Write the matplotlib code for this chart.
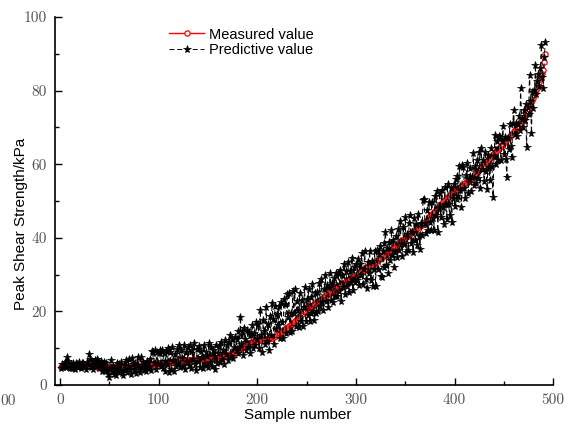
import matplotlib
matplotlib.use("Agg")
import matplotlib.pyplot as plt
import numpy as np
from matplotlib.ticker import MultipleLocator, FuncFormatter

# measured peak shear strength (kPa), ordered by sample number
measured = [
    5.0, 5.1, 5.2, 5.2, 5.3, 5.3, 5.3, 5.4, 5.4, 5.4, 5.4, 5.4, 5.4, 5.3, 5.3, 5.3, 5.3, 5.3, 5.3, 5.3,
    5.3, 5.3, 5.2, 5.2, 5.2, 5.2, 5.2, 5.2, 5.2, 5.1, 5.1, 5.1, 5.1, 5.1, 5.1, 5.1, 5.1, 5.0, 5.0, 5.0,
    5.0, 5.0, 5.0, 5.0, 4.9, 4.9, 4.9, 4.9, 4.9, 4.9, 4.9, 4.9, 4.9, 4.9, 4.9, 4.9, 4.9, 4.9, 4.9, 4.9,
    4.9, 4.9, 4.9, 5.0, 5.0, 5.0, 5.0, 5.0, 5.0, 5.0, 5.1, 5.1, 5.1, 5.1, 5.1, 5.1, 5.2, 5.2, 5.2, 5.2,
    5.3, 5.3, 5.3, 5.4, 5.4, 5.4, 5.5, 5.5, 5.5, 5.6, 5.6, 5.6, 5.7, 5.7, 5.7, 5.8, 5.8, 5.8, 5.9, 5.9,
    5.9, 6.0, 6.0, 6.0, 6.0, 6.1, 6.1, 6.1, 6.1, 6.2, 6.2, 6.2, 6.2, 6.3, 6.3, 6.3, 6.3, 6.4, 6.4, 6.4,
    6.4, 6.5, 6.5, 6.5, 6.5, 6.6, 6.6, 6.6, 6.6, 6.7, 6.7, 6.7, 6.7, 6.8, 6.8, 6.8, 6.8, 6.9, 6.9, 6.9,
    6.9, 7.0, 7.0, 7.0, 7.0, 7.1, 7.1, 7.1, 7.1, 7.2, 7.2, 7.2, 7.2, 7.3, 7.3, 7.3, 7.3, 7.4, 7.4, 7.4,
    7.5, 7.5, 7.6, 7.6, 7.7, 7.8, 7.8, 7.9, 8.0, 8.1, 8.2, 8.3, 8.4, 8.5, 8.6, 8.7, 8.8, 9.0, 9.1, 9.3,
    9.4, 9.6, 9.8, 10.0, 10.2, 10.4, 10.6, 10.8, 11.0, 11.1, 11.2, 11.3, 11.4, 11.5, 11.6, 11.7, 11.8, 11.9, 12.0, 12.0,
    12.1, 12.1, 12.2, 12.2, 12.3, 12.3, 12.4, 12.4, 12.5, 12.5, 12.6, 12.6, 12.7, 12.8, 12.9, 13.0, 13.1, 13.2, 13.4, 13.6,
    13.8, 14.0, 14.2, 14.4, 14.6, 14.8, 15.0, 15.2, 15.4, 15.6, 15.8, 16.0, 16.2, 16.4, 16.6, 16.8, 17.0, 17.3, 17.6, 17.9,
    18.2, 18.5, 18.8, 19.1, 19.4, 19.7, 20.0, 20.4, 20.8, 21.2, 21.4, 21.4, 21.3, 21.3, 21.4, 21.5, 21.7, 21.9, 22.1, 22.3,
    22.5, 22.7, 22.9, 23.1, 23.3, 23.5, 23.7, 23.9, 24.1, 24.3, 24.5, 24.7, 24.9, 25.1, 25.3, 25.5, 25.7, 25.9, 26.1, 26.3,
    26.5, 26.7, 26.9, 27.1, 27.3, 27.5, 27.6, 27.8, 28.0, 28.2, 28.3, 28.5, 28.7, 28.8, 29.0, 29.2, 29.3, 29.5, 29.7, 29.8,
    30.0, 30.2, 30.3, 30.5, 30.7, 30.9, 31.0, 31.2, 31.4, 31.6, 31.8, 32.0, 32.2, 32.4, 32.6, 32.8, 33.0, 33.2, 33.4, 33.6,
    33.8, 34.0, 34.2, 34.4, 34.6, 34.8, 35.0, 35.2, 35.4, 35.6, 35.8, 36.0, 36.2, 36.4, 36.6, 36.8, 37.0, 37.2, 37.4, 37.6,
    37.8, 38.0, 38.3, 38.5, 38.7, 39.0, 39.2, 39.4, 39.7, 39.9, 40.1, 40.4, 40.6, 40.8, 41.1, 41.3, 41.5, 41.8, 42.0, 42.2,
    42.4, 42.6, 42.8, 43.0, 43.2, 43.4, 43.6, 43.8, 44.0, 44.3, 44.6, 44.9, 45.2, 45.5, 45.8, 46.1, 46.4, 46.7, 47.0, 47.3,
    47.6, 47.9, 48.2, 48.5, 48.8, 49.1, 49.4, 49.7, 50.0, 50.3, 50.6, 50.9, 51.2, 51.4, 51.6, 51.8, 52.0, 52.2, 52.4, 52.6,
    52.8, 53.0, 53.2, 53.4, 53.6, 53.8, 54.0, 54.2, 54.4, 54.6, 54.8, 55.0, 55.2, 55.4, 55.6, 55.8, 56.0, 56.3, 56.6, 56.9,
    57.2, 57.5, 57.8, 58.1, 58.4, 58.7, 59.0, 59.3, 59.6, 59.9, 60.2, 60.5, 60.8, 61.1, 61.4, 61.7, 62.0, 62.3, 62.6, 62.9,
    63.2, 63.5, 63.8, 64.1, 64.4, 64.7, 65.0, 65.3, 65.6, 65.9, 66.2, 66.5, 66.8, 67.1, 67.4, 67.7, 68.0, 68.3, 68.6, 68.9,
    69.2, 69.5, 69.8, 70.1, 70.4, 70.8, 71.2, 71.6, 72.0, 72.5, 73.0, 73.5, 74.0, 74.5, 75.0, 75.6, 76.2, 76.8, 77.4, 78.0,
    78.7, 79.4, 80.1, 80.8, 81.6, 82.4, 83.2, 84.0, 84.8, 85.6, 87.8, 90.0,
]

# model prediction for the same samples
predicted = [
    4.6, 5.8, 4.9, 5.5, 6.2, 4.8, 7.5, 6.6, 5.0, 4.7, 5.6, 4.5, 5.9, 5.2, 4.4, 6.0, 5.7, 4.8, 6.3, 5.1,
    4.6, 5.9, 6.1, 4.9, 5.4, 4.3, 6.2, 5.6, 8.5, 7.1, 4.8, 5.3, 6.5, 4.4, 5.8, 6.9, 5.1, 7.0, 6.4, 4.6,
    5.5, 6.6, 3.9, 4.8, 6.2, 3.7, 5.9, 4.2, 3.1, 2.3, 4.6, 6.8, 3.5, 5.2, 2.9, 4.4, 2.7, 6.0, 3.8, 5.6,
    4.1, 6.3, 3.2, 2.7, 5.5, 4.0, 6.9, 3.6, 5.1, 7.1, 4.4, 3.0, 7.3, 5.8, 4.2, 6.0, 3.4, 5.4, 7.6, 4.7,
    3.6, 7.7, 5.0, 6.3, 4.1, 5.7, 3.9, 6.6, 4.6, 5.2, 7.0, 4.0, 9.3, 8.9, 6.1, 9.5, 4.4, 9.1, 5.8, 8.6,
    9.4, 5.2, 9.6, 4.7, 8.8, 6.4, 3.9, 9.2, 5.6, 10.1, 3.6, 9.0, 4.4, 10.4, 6.9, 3.9, 8.3, 5.3, 9.7, 6.1,
    10.9, 4.8, 9.5, 7.4, 5.1, 10.9, 4.3, 8.9, 6.2, 10.2, 5.5, 11.0, 4.6, 9.6, 7.1, 11.3, 5.8, 4.0, 9.9, 6.5,
    10.6, 4.9, 9.3, 7.6, 4.5, 10.8, 5.7, 9.1, 8.0, 4.8, 11.3, 6.3, 10.4, 5.2, 9.6, 7.8, 4.4, 11.0, 5.9, 8.7,
    10.5, 6.2, 11.8, 7.0, 9.4, 5.8, 12.1, 8.3, 10.9, 6.7, 11.6, 13.6, 8.0, 12.5, 7.4, 10.2, 13.0, 9.6, 12.4, 8.8,
    14.8, 10.0, 18.5, 11.2, 14.5, 8.2, 15.6, 12.4, 9.6, 15.0, 10.4, 14.5, 8.8, 13.5, 16.3, 10.0, 14.0, 10.8, 17.2, 12.5,
    16.6, 10.1, 20.5, 13.5, 9.1, 17.7, 14.6, 11.1, 21.3, 12.0, 16.7, 9.5, 18.8, 13.7, 22.2, 18.0, 11.1, 21.5, 15.2, 19.2,
    16.3, 21.6, 12.8, 22.5, 17.1, 12.9, 23.5, 22.0, 14.2, 24.8, 18.5, 25.1, 14.5, 19.5, 14.8, 25.5, 19.5, 26.0, 16.0, 22.8,
    20.4, 15.8, 24.9, 17.5, 23.0, 15.9, 21.2, 26.5, 17.5, 23.5, 19.0, 26.0, 17.5, 24.0, 19.5, 27.5, 20.0, 17.8, 25.0, 19.5,
    25.4, 20.2, 27.8, 21.5, 28.9, 22.6, 20.5, 26.2, 29.9, 22.7, 27.2, 21.3, 26.7, 30.5, 23.0, 27.8, 22.5, 29.1, 24.1, 30.4,
    24.3, 30.3, 25.5, 31.2, 22.8, 30.0, 26.5, 32.8, 24.8, 31.1, 26.9, 33.4, 25.3, 31.0, 27.9, 34.4, 25.7, 32.0, 28.1, 33.0,
    28.6, 34.3, 27.2, 33.0, 30.0, 36.0, 27.4, 31.6, 36.4, 28.9, 26.3, 33.4, 30.4, 36.4, 28.6, 33.7, 26.9, 31.4, 36.3, 27.0,
    36.7, 31.5, 35.5, 37.8, 29.6, 29.4, 36.3, 32.1, 38.6, 41.5, 32.6, 37.1, 30.3, 38.9, 33.9, 42.0, 35.2, 39.4, 32.2, 36.5,
    40.5, 34.8, 42.3, 36.7, 44.6, 38.3, 35.1, 42.8, 38.4, 45.7, 36.1, 41.1, 36.6, 44.0, 46.3, 38.6, 41.5, 36.2, 45.4, 39.3,
    43.8, 38.1, 46.4, 40.5, 36.9, 44.0, 40.7, 50.3, 50.5, 43.9, 41.2, 47.6, 42.1, 49.8, 44.4, 42.0, 49.6, 45.3, 42.0, 51.4,
    46.2, 52.8, 41.7, 48.1, 52.2, 45.7, 53.0, 48.3, 43.7, 53.7, 49.2, 45.1, 54.6, 49.2, 46.2, 53.6, 44.4, 50.9, 54.7, 48.6,
    55.9, 50.5, 56.8, 51.4, 59.4, 53.1, 48.4, 59.8, 59.3, 53.5, 50.7, 57.0, 60.2, 52.3, 56.1, 59.0, 52.8, 56.5, 63.0, 54.4,
    59.4, 54.8, 61.2, 56.3, 63.4, 53.5, 64.3, 58.6, 61.2, 55.4, 63.4, 58.2, 53.2, 62.4, 59.1, 55.6, 64.5, 59.4, 51.2, 62.2,
    67.9, 60.0, 66.2, 61.0, 67.6, 67.5, 61.2, 66.3, 70.5, 62.9, 67.5, 61.3, 56.6, 67.2, 64.0, 70.8, 65.0, 62.0, 71.2, 74.7,
    68.1, 71.3, 67.6, 70.8, 73.0, 69.4, 80.6, 72.2, 70.0, 74.8, 71.9, 76.3, 64.8, 75.4, 73.6, 84.2, 77.1, 68.4, 79.5, 75.2,
    80.2, 87.0, 79.1, 82.6, 84.5, 81.3, 86.0, 92.4, 83.7, 80.6, 89.0, 93.3,
]

samples = np.arange(1, len(measured) + 1)

fig = plt.figure(figsize=(5.7, 4.26), dpi=100)
ax = fig.add_axes([0.0965, 0.0962, 0.874, 0.864])

ax.plot(samples, measured, color="red", lw=1.0, marker="o", ms=3.8,
        mfc="white", mec="red", mew=0.9, label="Measured value", zorder=2)
ax.plot(samples, predicted, color="black", lw=0.7, ls=(0, (5, 3)),
        marker="*", ms=5.8, mfc="black", mec="black", mew=0.5,
        label="Predictive value", zorder=3)

ax.set_xlim(-5, 500)
ax.set_ylim(0, 100)
ax.xaxis.set_major_locator(MultipleLocator(100))
ax.xaxis.set_minor_locator(MultipleLocator(50))
ax.yaxis.set_major_locator(MultipleLocator(20))
ax.yaxis.set_minor_locator(MultipleLocator(10))
fmt = FuncFormatter(lambda v, p: f"{int(round(v))}")
ax.xaxis.set_major_formatter(fmt)
ax.yaxis.set_major_formatter(fmt)

ax.tick_params(which="major", direction="in", length=5, width=1, colors="black",
               labelcolor="#555555", labelsize=11, pad=6)
ax.tick_params(which="minor", direction="in", length=3, width=1)
for lab in ax.get_xticklabels() + ax.get_yticklabels():
    lab.set_fontfamily("cmr10")

for side in ["top", "right"]:
    ax.spines[side].set_visible(False)
for side in ["left", "bottom"]:
    ax.spines[side].set_linewidth(1.2)

ax.set_xlabel("Sample number", fontfamily="Liberation Sans", fontsize=11)
ax.set_ylabel("Peak Shear Strength/kPa", fontfamily="Liberation Sans", fontsize=11)
ax.xaxis.set_label_coords(0.488, -0.062)
ax.yaxis.set_label_coords(-0.068, 0.4375)
ax.yaxis.label.set_va("center")

ax.legend(loc="upper left", bbox_to_anchor=(0.212, 0.995), frameon=False,
          prop={"family": "Liberation Sans", "size": 10.5}, handlelength=2.4,
          handletextpad=0.3, labelspacing=0.1, borderaxespad=0.2)

fig.text(0.0, 1 - 401 / 426, "00", fontfamily="cmr10", fontsize=11,
         color="#555555", ha="left", va="center")

fig.savefig("out.png", dpi=100)
